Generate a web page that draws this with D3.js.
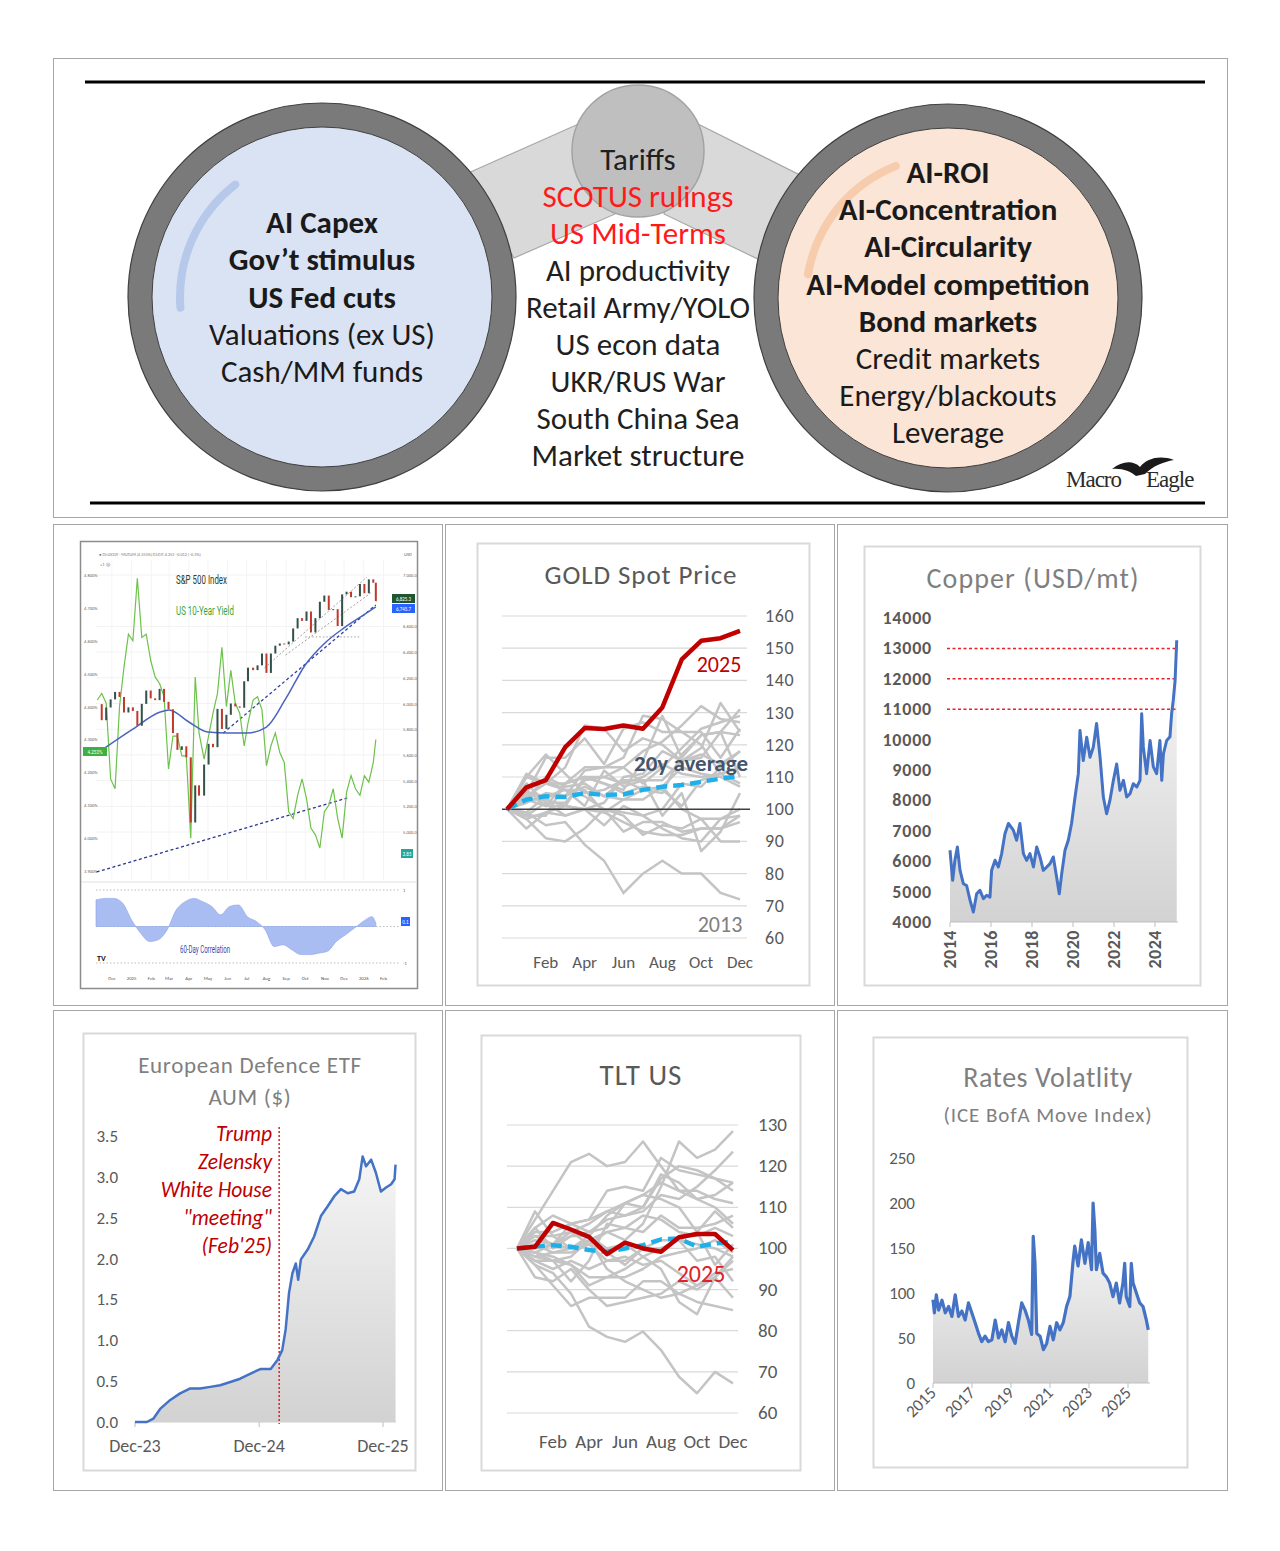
<!DOCTYPE html>
<html><head><meta charset="utf-8">
<script src="https://cdn.jsdelivr.net/npm/d3@7"></script>
<style>body{margin:0;background:#fff}svg{display:block}</style>
</head><body>
<svg id="c" width="1280" height="1551"></svg>
<script>
// ================= DATA =================
const leftItems = ["AI Capex","Gov’t stimulus","US Fed cuts","Valuations (ex US)","Cash/MM funds"];
const leftBold  = [true,true,true,false,false];
const midItems  = ["Tariffs","SCOTUS rulings","US Mid-Terms","AI productivity","Retail Army/YOLO","US econ data","UKR/RUS War","South China Sea","Market structure"];
const midRed    = [false,true,true,false,false,false,false,false,false];
const rightItems= ["AI-ROI","AI-Concentration","AI-Circularity","AI-Model competition","Bond markets","Credit markets","Energy/blackouts","Leverage"];
const rightBold = [true,true,true,true,true,false,false,false];

// S&P 500 vs US 10Y panel (weekly)
const spDates = ["2024-11-08","2024-11-15","2024-11-22","2024-11-29","2024-12-06","2024-12-13","2024-12-20","2024-12-27","2025-01-03","2025-01-10","2025-01-17","2025-01-24","2025-01-31","2025-02-07","2025-02-14","2025-02-21","2025-02-28","2025-03-07","2025-03-14","2025-03-21","2025-03-28","2025-04-04","2025-04-11","2025-04-17","2025-04-25","2025-05-02","2025-05-09","2025-05-16","2025-05-23","2025-05-30","2025-06-06","2025-06-13","2025-06-20","2025-06-27","2025-07-03","2025-07-11","2025-07-18","2025-07-25","2025-08-01","2025-08-08","2025-08-15","2025-08-22","2025-08-29","2025-09-05","2025-09-12","2025-09-19","2025-09-26","2025-10-03","2025-10-10","2025-10-17","2025-10-24","2025-10-31","2025-11-07","2025-11-14","2025-11-21","2025-11-28","2025-12-05","2025-12-12","2025-12-19","2025-12-26","2026-01-02","2026-01-09","2026-01-16","2026-01-20"];
const spClose = [5995,5870,5969,6032,6090,6051,5930,5970,5942,5827,5997,6101,6040,6026,6114,6013,5955,5770,5639,5667,5581,5074,5363,5283,5525,5686,5660,5958,5802,5912,6000,5977,5967,6173,6279,6260,6297,6389,6238,6389,6450,6467,6460,6482,6584,6664,6643,6716,6553,6664,6792,6840,6728,6734,6603,6849,6870,6827,6834,6930,6858,6966,6940,6796];
const us10y   = [4.42,4.44,4.41,4.18,4.15,4.40,4.52,4.62,4.60,4.79,4.61,4.62,4.54,4.49,4.47,4.43,4.21,4.31,4.31,4.25,4.25,4.00,4.49,4.32,4.24,4.31,4.38,4.44,4.58,4.40,4.51,4.41,4.38,4.28,4.35,4.42,4.43,4.39,4.22,4.28,4.32,4.26,4.23,4.08,4.06,4.13,4.18,4.12,4.03,4.01,3.97,4.08,4.10,4.15,4.06,4.00,4.14,4.19,4.15,4.13,4.19,4.17,4.23,4.30];
const spMaDates = ["2024-11-20","2025-01-01","2025-02-15","2025-03-01","2025-04-01","2025-05-01","2025-06-01","2025-07-01","2025-08-01","2025-09-01","2025-10-01","2025-11-01","2025-12-01","2026-01-01","2026-01-20"];
const spMaVals  = [5654,5794,5934,5950,5856,5778,5770,5770,5817,6043,6300,6471,6588,6689,6751];
const corDates = ["2024-11-06","2024-11-20","2024-12-04","2024-12-18","2025-01-01","2025-01-15","2025-01-29","2025-02-12","2025-02-26","2025-03-12","2025-03-26","2025-04-09","2025-04-23","2025-05-07","2025-05-21","2025-06-04","2025-06-18","2025-07-02","2025-07-16","2025-07-30","2025-08-13","2025-08-27","2025-09-10","2025-09-24","2025-10-08","2025-10-22","2025-11-05","2025-11-19","2025-12-03","2025-12-17","2025-12-31","2026-01-14","2026-01-20"];
const corVals  = [0.73,0.77,0.77,0.64,0.18,-0.18,-0.41,-0.36,-0.09,0.45,0.68,0.77,0.68,0.55,0.32,0.55,0.59,0.27,0.14,-0.09,-0.55,-0.5,-0.64,-0.77,-0.77,-0.73,-0.68,-0.41,-0.23,-0.05,0.14,0.27,0.09];
const spXLabels = [["2024-12-01","Dec"],["2025-01-01","2025"],["2025-02-01","Feb"],["2025-03-01","Mar"],["2025-04-01","Apr"],["2025-05-01","May"],["2025-06-01","Jun"],["2025-07-01","Jul"],["2025-08-01","Aug"],["2025-09-01","Sep"],["2025-10-01","Oct"],["2025-11-01","Nov"],["2025-12-01","Dec"],["2026-01-01","2026"],["2026-02-01","Feb"]];
const spYieldTicks = [3.9,4.0,4.1,4.2,4.3,4.4,4.5,4.6,4.7,4.8];
const spPriceTicks = [5000,5200,5400,5600,5800,6000,6200,6400,6600,7000];

// Gold (index, prior year-end = 100)
const monthLabels = ["Feb","Apr","Jun","Aug","Oct","Dec"];
const monthIdx    = [2,4,6,8,10,12];
const goldTicks = [60,70,80,90,100,110,120,130,140,150,160];
const goldOthers = [
 [100,97,99,98,100,95,101,98,100,108,107,113,118],
 [100,110,108,113,126,125,118,122,120,115,116,124,123],
 [100,102,105,104,107,104,103,106,105,117,123,124,131],
 [100,110,117,111,105,106,109,109,98,105,87,93,105],
 [100,106,109,106,101,112,107,109,109,115,119,133,124],
 [100,98,102,102,109,110,113,108,113,119,125,127,129],
 [100,94,99,101,110,108,106,115,129,116,123,124,110],
 [100,111,108,106,106,99,103,103,107,113,111,110,107],
 [100,103,110,107,108,104,109,106,107,100,97,97,98],
 [100,108,102,98,100,100,98,92,95,94,97,90,90],
 [100,105,116,116,122,114,125,127,124,124,120,111,108],
 [100,104,108,108,110,110,108,110,114,111,110,111,113],
 [100,103,101,101,100,99,96,93,92,92,94,94,98],
 [100,103,103,101,100,102,110,111,118,115,117,114,118],
 [100,105,104,104,112,113,116,129,128,124,124,116,125],
 [100,97,91,90,94,100,93,96,96,93,94,94,96],
 [100,99,104,106,104,100,99,98,94,91,90,97,100],
 [100,106,101,108,110,108,105,107,106,101,109,111,113],
 [100,98,98,108,113,113,113,118,121,126,132,128,127]
];
const gold2013 = [100,99,95,96,89,84,74,80,84,80,80,74,72];
const gold2025 = [100,106.8,109,119.3,125.2,124.9,126,125,131.6,146.5,152.3,153.1,155.4];
const goldAvg  = [100,103,104,103.8,105,104.4,104.6,106,107,107.5,108.5,109.5,110.3];

// Copper (USD/mt)
const copperYears = [2014.00,2014.13,2014.24,2014.36,2014.49,2014.65,2014.81,2014.98,2015.14,2015.30,2015.46,2015.63,2015.79,2015.95,2016.03,2016.20,2016.36,2016.52,2016.68,2016.85,2017.09,2017.25,2017.41,2017.58,2017.74,2017.90,2018.07,2018.23,2018.39,2018.55,2018.72,2018.88,2019.04,2019.20,2019.33,2019.45,2019.61,2019.77,2019.93,2020.10,2020.26,2020.34,2020.50,2020.67,2020.83,2020.99,2021.15,2021.32,2021.48,2021.64,2021.80,2021.97,2022.13,2022.29,2022.46,2022.62,2022.78,2022.94,2023.11,2023.27,2023.35,2023.43,2023.59,2023.76,2023.92,2024.08,2024.24,2024.33,2024.41,2024.57,2024.73,2024.81,2024.89,2024.98,2025.06];
const copperVals  = [6360,5370,6030,6470,5700,5260,5200,4710,4330,4930,5040,4770,4880,4820,5700,6030,5810,6250,6900,7240,7020,6690,7240,6250,6030,6250,5810,6470,6140,5700,5810,5920,6140,5480,4930,5590,6360,6690,7240,8110,8880,10300,9310,10080,9420,9750,10530,9420,8110,7560,8000,8660,9200,8330,8660,8110,8220,8550,8440,8660,10850,9760,8880,9970,9100,8880,9970,8660,9530,9970,10090,10850,11290,11950,13270];
const copperTicks = [4000,5000,6000,7000,8000,9000,10000,11000,12000,13000,14000];
const copperYearTicks = [2014,2016,2018,2020,2022,2024];
const copperLevels = [11000,12000,13000];

// European Defence ETF AUM ($bn)
const euDates = ["2023-12-31","2024-02-04","2024-02-23","2024-03-14","2024-04-13","2024-05-12","2024-06-11","2024-07-10","2024-08-09","2024-09-07","2024-10-07","2024-11-05","2024-12-04","2025-01-05","2025-02-03","2025-02-23","2025-03-09","2025-03-19","2025-03-29","2025-04-08","2025-04-18","2025-04-25","2025-05-03","2025-05-23","2025-06-11","2025-07-01","2025-07-21","2025-08-09","2025-08-29","2025-09-18","2025-10-07","2025-10-22","2025-11-01","2025-11-11","2025-11-26","2025-12-10","2025-12-25","2026-01-09","2026-01-24","2026-02-03","2026-02-06"];
const euVals  = [0,0,0.04,0.16,0.27,0.35,0.41,0.41,0.43,0.45,0.49,0.53,0.59,0.65,0.65,0.76,0.88,1.13,1.58,1.82,1.94,1.74,1.99,2.11,2.27,2.52,2.64,2.76,2.85,2.80,2.82,2.97,3.25,3.13,3.21,3.05,2.82,2.87,2.91,2.97,3.15];
const euTicks = [0,0.5,1.0,1.5,2.0,2.5,3.0,3.5];
const euXTicks = [["2023-12-31","Dec-23"],["2024-12-31","Dec-24"],["2025-12-31","Dec-25"]];
const euEvent = "2025-02-28";
const euNote = ["Trump","Zelensky","White House","\"meeting\"","(Feb'25)"];

// TLT US (index, prior year-end = 100)
const tltTicks = [60,70,80,90,100,110,120,130];
const tltOthers = [
 [100,98,99,99,101,104,102,106,115,126,122,124,128.5],
 [100,104,104,106,107,109,108,109,113,112,115,119,123.5],
 [100,107,114,121,123,120,121,126,120,114,112,113,116],
 [100,102,101,103,104,107,108,110,117,120,119,117,116],
 [100,103,101,104,106,109,111,113,116,114,114,112,111],
 [100,105,100,103,103,100,101,98,95,87,84,93,98],
 [100,97,97,98,102,95,92,90,88,89,87,86,85],
 [100,96,94,89,81,78.5,77.3,79.8,75.3,68.8,64.8,70,67.2],
 [100,93,92,95,90,86,87,88,89,92,90,93,88],
 [100,96,91,86,88,88,88,92,92,89,91,94,95],
 [100,101,99,100,102,104,105,104,108,105,105,106,108],
 [100,100,101,106,107,114,115,114,122,119,118,117,114],
 [100,105,108,106,104,105,111,113,112,110,104,96,101],
 [100,97,95,97,95,97,98,96,97,94,91,93,97],
 [100,109,103,104,101,99,96,100,100,102,101,100,98],
 [100,99,97,92,97,106,105,108,107,104,103,105,103],
 [100,103,103,100,103,108,111,110,118,116,112,110,106],
 [100,99,98,96,93,93,93,95,98,99,100,102,99],
 [100,98,97,96,91,93,95,98,100,102,97,98,92],
 [100,99,101,100,101,97,97,100,102,102,104,109,105]
];
const tlt2025 = [100,100.4,106.2,104.6,102.8,98.6,101.4,100,99.2,102.7,103.5,103.5,99.6];
const tltAvg  = [100,100.5,100.8,100.4,99.6,99.2,100,100.8,102.2,102.4,100.4,101.2,101.6];

// Rates volatility (ICE BofA MOVE)
const moveYears = [2015.00,2015.07,2015.17,2015.29,2015.46,2015.63,2015.80,2015.97,2016.14,2016.31,2016.48,2016.65,2016.82,2016.99,2017.16,2017.33,2017.50,2017.67,2017.84,2018.02,2018.19,2018.36,2018.53,2018.70,2018.87,2019.04,2019.21,2019.38,2019.55,2019.72,2019.89,2020.06,2020.14,2020.23,2020.32,2020.49,2020.66,2020.83,2021.00,2021.17,2021.34,2021.51,2021.68,2021.85,2022.02,2022.19,2022.27,2022.44,2022.61,2022.79,2022.96,2023.13,2023.21,2023.30,2023.38,2023.55,2023.72,2023.89,2024.06,2024.23,2024.40,2024.57,2024.74,2024.83,2024.91,2025.09,2025.17,2025.26,2025.43,2025.60,2025.77,2025.94,2026.04];
const moveVals  = [92.6,78,98,81,92,78,85,74,98,74,80,70,89,78,67,55.5,46,52,46,48,70,50,59,46,67,52,44,67,89,81,70,54,163,133,55,52,37,44,63,48,67,59,67,85,96,137,152,130,159,133,156,126,200,170,126,144,122,118,111,96,111,89,111,133,96,85,133,111,100,89,85,70,59];
const moveTicks = [0,50,100,150,200,250];
const moveYearTicks = [2015,2017,2019,2021,2023,2025];

// ================= DRAWING =================
const svg = d3.select("#c");
const FONT = "Carlito, Lato, 'Open Sans', sans-serif";
const NARROW = "'Liberation Sans Narrow','Roboto',sans-serif";
const parse = d3.timeParse("%Y-%m-%d");
svg.append("rect").attr("width",1280).attr("height",1551).attr("fill","#fff");
const defs = svg.append("defs");
function grad(id,y1,y2){
  const g = defs.append("linearGradient").attr("id",id).attr("gradientUnits","userSpaceOnUse")
    .attr("x1",0).attr("x2",0).attr("y1",y1).attr("y2",y2);
  g.append("stop").attr("offset",0).attr("stop-color","#f7f7f7");
  g.append("stop").attr("offset",1).attr("stop-color","#d2d2d2");
}
function txt(g,x,y,s,o={}){
  const t = g.append("text").attr("x",x).attr("y",y).text(s)
   .attr("font-family",o.ff||FONT).attr("font-size",o.fs||16).attr("fill",o.fill||"#595959")
   .attr("font-weight",o.fw||"normal").attr("font-style",o.st||"normal")
   .attr("text-anchor",o.anchor||"start");
  if(o.ls) t.attr("letter-spacing",o.ls);
  return t;
}
function box(x1,y1,x2,y2,stroke,w){
  svg.append("rect").attr("x",x1+0.5).attr("y",y1+0.5).attr("width",x2-x1).attr("height",y2-y1)
   .attr("fill","none").attr("stroke",stroke).attr("stroke-width",w||1);
}

// ---------- TOP DIAGRAM ----------
const T = svg.append("g");
box(53,58,1227,517,"#a6a6a6",1);
T.append("line").attr("x1",85).attr("x2",1205).attr("y1",82).attr("y2",82).attr("stroke","#000").attr("stroke-width",3);
T.append("line").attr("x1",90).attr("x2",1205).attr("y1",503).attr("y2",503).attr("stroke","#000").attr("stroke-width",3);
T.append("path").attr("d","M466,174 L592,118 L615,214 L514,258 Z").attr("fill","#d9d9d9").attr("stroke","#a8a8a8").attr("stroke-width",1.2);
T.append("path").attr("d","M686,118 L810,180 L764,262 L664,214 Z").attr("fill","#d9d9d9").attr("stroke","#a8a8a8").attr("stroke-width",1.2);
T.append("circle").attr("cx",638).attr("cy",151).attr("r",66).attr("fill","#bfbfbf").attr("stroke","#a3a3a3").attr("stroke-width",1.5);

function bigCircle(cx,cy,fill,hl,a0,a1){
  T.append("circle").attr("cx",cx).attr("cy",cy).attr("r",182).attr("fill",fill).attr("stroke","#7a7a7a").attr("stroke-width",24);
  T.append("circle").attr("cx",cx).attr("cy",cy).attr("r",194).attr("fill","none").attr("stroke","#404040").attr("stroke-width",1.2);
  T.append("circle").attr("cx",cx).attr("cy",cy).attr("r",170).attr("fill","none").attr("stroke","#404040").attr("stroke-width",1);
  const arc = d3.arc().innerRadius(138).outerRadius(146).startAngle(a0*Math.PI/180).endAngle(a1*Math.PI/180).cornerRadius(4);
  T.append("path").attr("d",arc()).attr("transform",`translate(${cx},${cy})`).attr("fill",hl);
}
bigCircle(322,297,"#dae3f3","#b6c9ea",-96,-36);
bigCircle(948,298,"#fbe5d6","#f7ccad",-82,-20);

leftItems.forEach((s,i)=>txt(T,322,233+i*37.3,s,{fs:31,anchor:"middle",fw:leftBold[i]?"bold":"normal",fill:"#1a1a1a"}));
midItems.forEach((s,i)=>txt(T,638,170+i*37,s,{fs:31,anchor:"middle",fill:midRed[i]?"#ff1a1a":"#1f1f1f"}));
rightItems.forEach((s,i)=>txt(T,948,183+i*37.2,s,{fs:31,anchor:"middle",fw:rightBold[i]?"bold":"normal",fill:"#1a1a1a"}));
// logo
T.append("path").attr("d","M1112,469 C1122,461 1133,460 1140,467 C1147,458 1160,455 1174,460 C1163,462 1153,466 1145,474 L1136,476 C1130,471 1122,468 1112,469 Z").attr("fill","#1a1a1a");
txt(T,1066,487,"Macro",{ff:"'Liberation Serif','DejaVu Serif',serif",fs:23,fill:"#2b2b2b",ls:-1});
txt(T,1146,487,"Eagle",{ff:"'Liberation Serif','DejaVu Serif',serif",fs:23,fill:"#2b2b2b",ls:-1});

// ---------- PANEL CELLS ----------
[[53,524,442,1005],[445,524,834,1005],[837,524,1227,1005],[53,1010,442,1490],[445,1010,834,1490],[837,1010,1227,1490]]
  .forEach(c=>box(c[0],c[1],c[2],c[3],"#a6a6a6",1));

// ---------- PANEL 1: S&P vs 10Y ----------
(function(){
  const g = svg.append("g");
  box(80,541,417,988,"#8c8c8c",1.5);
  const x = d3.scaleTime([parse("2024-11-06"),parse("2026-02-27")],[96,400]);
  const yP = d3.scaleLinear([5000,7000],[832,575]);
  const yY = d3.scaleLinear([3.9,4.8],[871,575]);
  const yC = d3.scaleLinear([-1,1],[963,890]);
  spPriceTicks.forEach(v=>g.append("line").attr("x1",96).attr("x2",400).attr("y1",yP(v)).attr("y2",yP(v)).attr("stroke","#f2f2f2"));
  spXLabels.forEach(d=>g.append("line").attr("x1",x(parse(d[0]))).attr("x2",x(parse(d[0]))).attr("y1",560).attr("y2",880).attr("stroke","#f4f4f4"));
  spYieldTicks.forEach(v=>txt(g,84,yY(v)+2,v.toFixed(3)+"%",{fs:4.5,fill:"#666"}));
  spPriceTicks.forEach(v=>txt(g,403,yP(v)+2,d3.format(",.1f")(v),{fs:4.5,fill:"#666"}));
  txt(g,404,556,"USD",{fs:4.5,fill:"#666"});
  txt(g,99,556,"● DJ:US10Y · MUTUM (4.253%)  DJ:DJT  4.253  −0.012 (−0.3%)",{fs:4.2,fill:"#777"});
  txt(g,100,566,"+1  ◎",{fs:4.5,fill:"#777"});
  const gl = (d1,v1,d2,v2,c,da)=>g.append("line").attr("x1",x(parse(d1))).attr("y1",yP(v1)).attr("x2",x(parse(d2))).attr("y2",yP(v2)).attr("stroke",c).attr("stroke-width",1).attr("stroke-dasharray",da);
  gl("2025-07-29",6277,"2026-01-06",6984,"#a0a0a0","2,2");
  gl("2025-08-31",6377,"2026-01-12",6860,"#a0a0a0","2,2");
  gl("2025-10-01",6518,"2025-12-28",6518,"#a0a0a0","1.5,2");
  gl("2025-05-25",5770,"2026-01-20",6767,"#2f3f9f","3,2.5").attr("stroke-width",1.3);
  g.append("line").attr("x1",x(parse("2024-11-07"))).attr("y1",yY(3.897)).attr("x2",x(parse("2025-12-06"))).attr("y2",yY(4.122))
    .attr("stroke","#283593").attr("stroke-width",1.3).attr("stroke-dasharray","3,2.5");
  const yl = spDates.map((d,i)=>[x(parse(d)),yY(us10y[i])]);
  g.append("path").attr("d",d3.line()(yl)).attr("fill","none").attr("stroke","#6cc24a").attr("stroke-width",1.2);
  const ma = spMaDates.map((d,i)=>[x(parse(d)),yP(spMaVals[i])]);
  g.append("path").attr("d",d3.line().curve(d3.curveMonotoneX)(ma)).attr("fill","none").attr("stroke","#4a63c0").attr("stroke-width",1.5);
  spClose.forEach((c,i)=>{ if(i===0) return;
    const o = spClose[i-1], xx = x(parse(spDates[i]));
    g.append("rect").attr("x",xx-1).attr("width",2).attr("y",yP(Math.max(o,c))).attr("height",Math.max(1,Math.abs(yP(o)-yP(c))))
      .attr("fill",c>=o?"#33504a":"#c0392b");
  });
  txt(g,176,584,"S&P 500 Index",{fs:12,fill:"#2d3b2d",ff:NARROW}).attr("textLength",51).attr("lengthAdjust","spacingAndGlyphs");
  txt(g,176,615,"US 10-Year Yield",{fs:12,fill:"#3fa535",ff:NARROW}).attr("textLength",58).attr("lengthAdjust","spacingAndGlyphs");
  const tag=(x0,y0,w,c,s)=>{g.append("rect").attr("x",x0).attr("y",y0).attr("width",w).attr("height",9).attr("fill",c);
    txt(g,x0+w/2,y0+6.5,s,{fs:5,fill:"#fff",anchor:"middle"});};
  tag(83,747,24,"#3cb043","4.253%");
  tag(392,594,23,"#1e5631","6,825.3");
  tag(392,604,23,"#2962ff","6,745.7");
  tag(401,849,12,"#26a69a","3.85");
  g.append("line").attr("x1",81).attr("x2",416).attr("y1",882).attr("y2",882).attr("stroke","#e0e0e0");
  [1,0,-1].forEach(v=>g.append("line").attr("x1",96).attr("x2",400).attr("y1",yC(v)).attr("y2",yC(v)).attr("stroke","#bdbdbd").attr("stroke-dasharray","1.5,2"));
  const cd = corDates.map((d,i)=>({x:x(parse(d)),v:corVals[i]}));
  g.append("path").attr("d",d3.area().curve(d3.curveMonotoneX).x(d=>d.x).y0(yC(0)).y1(d=>yC(d.v))(cd)).attr("fill","#a9bdf2").attr("stroke","#8aa3e8").attr("stroke-width",0.6);
  txt(g,403,yC(1)+2,"1",{fs:4.5,fill:"#666"});
  txt(g,403,yC(-1)+2,"-1",{fs:4.5,fill:"#666"});
  tag(401,917,9,"#2962ff","0.1");
  txt(g,180,953,"60-Day Correlation",{fs:10,fill:"#3949ab",ff:NARROW}).attr("textLength",50).attr("lengthAdjust","spacingAndGlyphs");
  txt(g,97,961,"TV",{fs:8,fw:"bold",fill:"#111"});
  spXLabels.forEach(d=>txt(g,x(parse(d[0])),980,d[1],{fs:4.8,anchor:"middle",fill:"#555"}));
})();

// ---------- PANEL 2: GOLD ----------
(function(){
  const g = svg.append("g");
  box(477,543,809,985,"#d9d9d9",2);
  const x = d3.scaleLinear([0,12],[507,740]);
  const y = d3.scaleLinear([60,160],[938,616]);
  txt(g,641,584,"GOLD Spot Price",{fs:27,anchor:"middle",fill:"#595959",ls:0.9});
  goldTicks.forEach(v=>{ if(v!==100) g.append("line").attr("x1",502).attr("x2",747).attr("y1",y(v)).attr("y2",y(v)).attr("stroke","#d9d9d9").attr("stroke-width",1.2);
    txt(g,765,y(v)+6,v,{fs:18,fill:"#595959",ls:0.6}); });
  monthLabels.forEach((m,i)=>txt(g,x(monthIdx[i]),968,m,{fs:17,anchor:"middle",fill:"#595959"}));
  const line = d3.line().x((d,i)=>x(i)).y(d=>y(d));
  goldOthers.forEach(a=>g.append("path").attr("d",line(a)).attr("fill","none").attr("stroke","#c4c4c4").attr("stroke-width",2.5).attr("stroke-linejoin","round"));
  g.append("path").attr("d",line(gold2013)).attr("fill","none").attr("stroke","#c4c4c4").attr("stroke-width",2.5);
  g.append("line").attr("x1",502).attr("x2",750).attr("y1",y(100)).attr("y2",y(100)).attr("stroke","#404040").attr("stroke-width",1.5);
  g.append("path").attr("d",line(goldAvg)).attr("fill","none").attr("stroke","#1fb0ea").attr("stroke-width",4.5).attr("stroke-dasharray","11,6");
  g.append("path").attr("d",line(gold2025)).attr("fill","none").attr("stroke","#c00000").attr("stroke-width",4.5).attr("stroke-linejoin","round");
  txt(g,719,672,"2025",{fs:22,anchor:"middle",fill:"#c00000"});
  txt(g,691,771,"20y average",{fs:23,anchor:"middle",fw:"bold",fill:"#44546a"});
  txt(g,720,932,"2013",{fs:22,anchor:"middle",fill:"#808080"});
})();

// ---------- PANEL 3: COPPER ----------
(function(){
  const g = svg.append("g");
  box(864,546,1200,985,"#d9d9d9",2);
  grad("gCu",660,922);
  const x = d3.scaleLinear([2014,2025],[950,1175.5]);
  const y = d3.scaleLinear([4000,14000],[922,618]);
  txt(g,1033,588,"Copper (USD/mt)",{fs:28,anchor:"middle",fill:"#7f7f7f",ls:1.1});
  copperTicks.forEach(v=>txt(g,932,y(v)+6,v,{fs:18,anchor:"end",fill:"#595959",fw:"600",ls:0.8}));
  const pts = copperYears.map((t,i)=>({x:x(t),v:copperVals[i]}));
  g.append("path").attr("d",d3.area().x(d=>d.x).y0(y(4000)).y1(d=>y(d.v))(pts)).attr("fill","url(#gCu)");
  g.append("line").attr("x1",950).attr("x2",1178).attr("y1",y(4000)).attr("y2",y(4000)).attr("stroke","#bfbfbf");
  copperYearTicks.forEach(t=>{
    g.append("line").attr("x1",x(t)).attr("x2",x(t)).attr("y1",922).attr("y2",927).attr("stroke","#bfbfbf");
    txt(g,0,0,t,{fs:18,anchor:"end",fill:"#595959",fw:"600",ls:0.5}).attr("transform",`translate(${x(t)+6},930) rotate(-90)`);
  });
  copperLevels.forEach(v=>g.append("line").attr("x1",947).attr("x2",1178).attr("y1",y(v)).attr("y2",y(v)).attr("stroke","#e8202a").attr("stroke-width",1.5).attr("stroke-dasharray","3,2.5"));
  g.append("path").attr("d",d3.line().x(d=>d.x).y(d=>y(d.v))(pts)).attr("fill","none").attr("stroke","#4472c4").attr("stroke-width",3).attr("stroke-linejoin","round");
})();

// ---------- PANEL 4: EUROPEAN DEFENCE ----------
(function(){
  const g = svg.append("g");
  box(83,1033,415,1470,"#d9d9d9",2);
  grad("gEu",1140,1422);
  const x = d3.scaleTime([parse("2023-12-31"),parse("2025-12-31")],[135,383]);
  const y = d3.scaleLinear([0,3.5],[1422,1136]);
  txt(g,250,1073,"European Defence ETF",{fs:23,anchor:"middle",fill:"#7f7f7f",ls:0.7});
  txt(g,250,1105,"AUM ($)",{fs:23,anchor:"middle",fill:"#7f7f7f",ls:0.7});
  euTicks.forEach(v=>txt(g,118,y(v)+6,v.toFixed(1),{fs:17,anchor:"end",fill:"#595959"}));
  const pts = euDates.map((d,i)=>({x:x(parse(d)),v:euVals[i]}));
  g.append("path").attr("d",d3.area().x(d=>d.x).y0(y(0)).y1(d=>y(d.v))(pts)).attr("fill","url(#gEu)");
  g.append("line").attr("x1",135).attr("x2",396).attr("y1",y(0)).attr("y2",y(0)).attr("stroke","#d0d0d0");
  euXTicks.forEach(d=>{
    const xx = x(parse(d[0]));
    g.append("line").attr("x1",xx).attr("x2",xx).attr("y1",1422).attr("y2",1427).attr("stroke","#bfbfbf");
    txt(g,xx,1452,d[1],{fs:18,anchor:"middle",fill:"#595959"});
  });
  const ex = x(parse(euEvent));
  g.append("line").attr("x1",ex).attr("x2",ex).attr("y1",1127).attr("y2",1424).attr("stroke","#e0201f").attr("stroke-width",1.5).attr("stroke-dasharray","2,2");
  euNote.forEach((s,i)=>txt(g,272,1141+i*28,s,{fs:21.5,anchor:"end",st:"italic",fill:"#c00000"}));
  g.append("path").attr("d",d3.line().x(d=>d.x).y(d=>y(d.v))(pts)).attr("fill","none").attr("stroke","#4472c4").attr("stroke-width",2.5).attr("stroke-linejoin","round");
})();

// ---------- PANEL 5: TLT ----------
(function(){
  const g = svg.append("g");
  box(481,1035,800,1470,"#d9d9d9",2);
  const x = d3.scaleLinear([0,12],[517,733]);
  const y = d3.scaleLinear([60,130],[1413,1125]);
  txt(g,641,1085,"TLT US",{fs:29,anchor:"middle",fill:"#595959",ls:1});
  tltTicks.forEach(v=>{ g.append("line").attr("x1",507).attr("x2",738).attr("y1",y(v)).attr("y2",y(v)).attr("stroke","#d9d9d9").attr("stroke-width",1.2);
    txt(g,758,y(v)+6,v,{fs:19,fill:"#595959"}); });
  monthLabels.forEach((m,i)=>txt(g,x(monthIdx[i]),1448,m,{fs:19,anchor:"middle",fill:"#595959"}));
  const line = d3.line().x((d,i)=>x(i)).y(d=>y(d));
  tltOthers.forEach(a=>g.append("path").attr("d",line(a)).attr("fill","none").attr("stroke","#c4c4c4").attr("stroke-width",2.5).attr("stroke-linejoin","round"));
  g.append("path").attr("d",line(tltAvg)).attr("fill","none").attr("stroke","#1fb0ea").attr("stroke-width",4.5).attr("stroke-dasharray","11,6");
  g.append("path").attr("d",line(tlt2025)).attr("fill","none").attr("stroke","#c00000").attr("stroke-width",4.5).attr("stroke-linejoin","round");
  txt(g,701,1282,"2025",{fs:24,anchor:"middle",fill:"#e0202a"});
})();

// ---------- PANEL 6: RATES VOL ----------
(function(){
  const g = svg.append("g");
  box(873,1037,1187,1467,"#d9d9d9",2);
  grad("gMv",1230,1383);
  const x = d3.scaleLinear([2015,2025],[933,1128]);
  const y = d3.scaleLinear([0,250],[1383,1158]);
  txt(g,1048,1087,"Rates Volatlity",{fs:28,anchor:"middle",fill:"#7f7f7f",ls:0.5});
  txt(g,1048,1122,"(ICE BofA Move Index)",{fs:21,anchor:"middle",fill:"#7f7f7f",ls:0.9});
  moveTicks.forEach(v=>txt(g,915,y(v)+6,v,{fs:17,anchor:"end",fill:"#595959"}));
  const pts = moveYears.map((t,i)=>({x:x(t),v:moveVals[i]}));
  g.append("path").attr("d",d3.area().x(d=>d.x).y0(y(0)).y1(d=>y(d.v))(pts)).attr("fill","url(#gMv)");
  g.append("line").attr("x1",933).attr("x2",1150).attr("y1",y(0)).attr("y2",y(0)).attr("stroke","#bfbfbf");
  moveYearTicks.forEach(t=>{
    g.append("line").attr("x1",x(t)).attr("x2",x(t)).attr("y1",1383).attr("y2",1388).attr("stroke","#bfbfbf");
    txt(g,0,0,t,{fs:17,anchor:"end",fill:"#595959"}).attr("transform",`translate(${x(t)+4},1394) rotate(-45)`);
  });
  g.append("path").attr("d",d3.line().x(d=>d.x).y(d=>y(d.v))(pts)).attr("fill","none").attr("stroke","#4472c4").attr("stroke-width",3.2).attr("stroke-linejoin","round");
})();
</script>
</body></html>
